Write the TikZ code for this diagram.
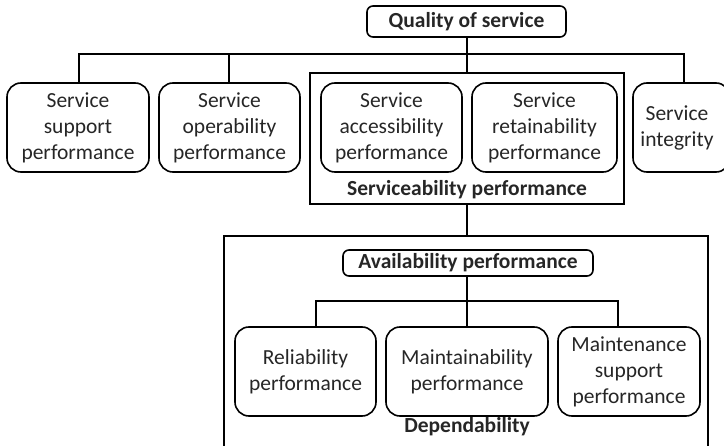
\documentclass[tikz,border=0pt]{standalone}
\usepackage{fontspec}
\setmainfont{Carlito}
\definecolor{txt}{HTML}{262626}
\begin{document}
\begin{tikzpicture}[x=1pt,y=-1pt,
  every node/.style={font=\fontsize{21.5}{26}\selectfont, text=txt},
  rbox/.style={draw=black, line width=1.6pt, rounded corners=14pt, align=center,
    minimum height=89pt, inner sep=0pt},
  hbox/.style={draw=black, line width=1.6pt, rounded corners=6pt, align=center,
    font=\fontsize{21.5}{26}\selectfont\bfseries, inner sep=0pt},
  frame/.style={draw=black, line width=1.1pt},
  conn/.style={draw=black, line width=1.8pt},
  lbl/.style={font=\fontsize{21.5}{26}\selectfont\bfseries}]
\useasboundingbox (0,0) rectangle (724,446);
\clip (0,0) rectangle (724,446);
% outer frames
\node[frame, minimum width=314pt, minimum height=131pt, inner sep=0pt] (svc) at (467,138.5) {};
\node[frame, minimum width=484pt, minimum height=230pt, inner sep=0pt] (dep) at (466,351) {};
\node[lbl] (svcl) at (467,190) {Serviceability performance};
\node[lbl] (depl) at (467,426.5) {Dependability};
% top
\node[hbox, minimum width=199pt, minimum height=31pt] (qos) at (466.5,21.5) {Quality of service};
\node[rbox, minimum width=142pt] (sup) at (78,127.5) {Service\\support\\performance};
\node[rbox, minimum width=141pt] (ope) at (229.5,127.5) {Service\\operability\\performance};
\node[rbox, minimum width=141pt] (acc) at (391.5,127.5) {Service\\accessibility\\performance};
\node[rbox, minimum width=145pt] (ret) at (544.5,127.5) {Service\\retainability\\performance};
\node[rbox, minimum width=97pt] (int) at (681.5,127.5) {Service\hspace*{9pt}\\integrity\hspace*{9pt}};
% bottom
\node[hbox, minimum width=250pt, minimum height=26pt] (ava) at (468,263) {Availability performance};
\node[rbox, minimum width=141pt] (rel) at (305.5,371.5) {Reliability\\performance};
\node[rbox, minimum width=162pt] (mai) at (467,371.5) {Maintainability\\performance};
\node[rbox, minimum width=142pt] (mss) at (629,371.5) {Maintenance\\support\\performance};
% connectors
\coordinate (busT) at (467,54);
\draw[conn] ([xshift=0.5pt]qos.south) -- ([xshift=0.5pt]qos.south |- svc.north);
\draw[conn] ([xshift=1pt]sup.north) |- (busT) -| ([xshift=2.5pt]int.north);
\draw[conn] ([xshift=-0.5pt]ope.north) -- ([xshift=-0.5pt]ope.north |- busT);
\draw[conn] (svc.south -| 467,0) -- (dep.north -| 467,0);
\coordinate (busB) at (467,301);
\draw[conn] ([xshift=-1pt]ava.south) -- (mai.north);
\draw[conn] ([xshift=10.5pt]rel.north) |- (busB) -| ([xshift=-11pt]mss.north);
\end{tikzpicture}
\end{document}
